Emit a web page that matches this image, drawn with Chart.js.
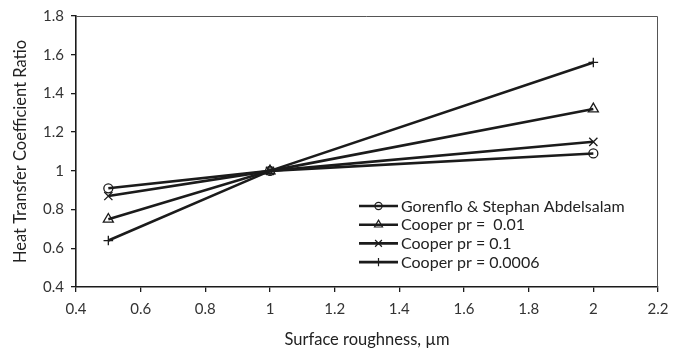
<!DOCTYPE html>
<html>
<head>
<meta charset="utf-8">
<script src="https://cdn.jsdelivr.net/npm/chart.js@4"></script>
<style>
  html, body { margin: 0; padding: 0; background: #fff; }
  #wrap { width: 679px; height: 352px; }
</style>
</head>
<body>
<div id="wrap"><canvas id="c" width="679" height="352"></canvas></div>
<script>
// Surface roughness (µm) and heat transfer coefficient ratios for each correlation
const roughness = [0.5, 1, 2];
const gorenflo = [0.91, 1.0, 1.09];
const cooper001 = [0.75, 1.0, 1.32];
const cooper01 = [0.87, 1.0, 1.15];
const cooper00006 = [0.64, 1.0, 1.56];

const seriesNames = [
  'Gorenflo & Stephan Abdelsalam',
  'Cooper pr =  0.01',
  'Cooper pr = 0.1',
  'Cooper pr = 0.0006'
];
const seriesValues = [gorenflo, cooper001, cooper01, cooper00006];
const seriesMarkers = ['circle', 'triangle', 'crossRot', 'cross'];
const markerRadius = [4.5, 5.8, 5.8, 4.8];
const legendMarkerRadius = [3.6, 4.6, 4.8, 4.2];

const xAxisTitle = 'Surface roughness, µm';
const yAxisTitle = 'Heat Transfer Coefficient Ratio';

const INK = '#1b1b1b';
const FONT = 'Lato, "Open Sans", sans-serif';

const datasets = seriesNames.map((name, i) => ({
  label: name,
  data: roughness.map((x, j) => ({ x: x, y: seriesValues[i][j] })),
  borderColor: INK,
  backgroundColor: 'rgba(0,0,0,0)',
  borderWidth: 2.6,
  pointStyle: seriesMarkers[i],
  pointRadius: markerRadius[i],
  pointBorderWidth: 1.3,
  pointBorderColor: INK,
  pointBackgroundColor: 'rgba(0,0,0,0)',
  tension: 0
}));

// Thin frame around the plot area
const framePlugin = {
  id: 'frame',
  beforeDatasetsDraw(chart) {
    const { ctx, chartArea: a } = chart;
    ctx.save();
    ctx.strokeStyle = '#555';
    ctx.lineWidth = 1;
    ctx.beginPath();
    ctx.moveTo(a.left, a.top + 0.5);
    ctx.lineTo(a.right - 0.5, a.top + 0.5);
    ctx.lineTo(a.right - 0.5, a.bottom);
    ctx.stroke();
    ctx.restore();
  }
};

// Legend drawn inside the plot area: line sample with marker, then label
const insideLegend = {
  id: 'insideLegend',
  afterDatasetsDraw(chart) {
    const { ctx } = chart;
    const x0 = 359, x1 = 398, tx = 401, y0 = 206, dy = 18.7;
    ctx.save();
    chart.data.datasets.forEach((ds, i) => {
      const y = y0 + i * dy;
      ctx.strokeStyle = INK;
      ctx.lineWidth = 2.6;
      ctx.beginPath();
      ctx.moveTo(x0, y);
      ctx.lineTo(x1, y);
      ctx.stroke();
      ctx.lineWidth = 1.2;
      ctx.strokeStyle = INK;
      ctx.fillStyle = 'rgba(0,0,0,0)';
      Chart.helpers.drawPoint(ctx, { pointStyle: ds.pointStyle, radius: legendMarkerRadius[i], borderWidth: 1.2 }, (x0 + x1) / 2, y);
      ctx.fillStyle = '#222';
      ctx.font = '16px ' + FONT;
      ctx.textBaseline = 'middle';
      ctx.textAlign = 'left';
      ctx.fillText(ds.label, tx, y + 0.5);
    });
    ctx.restore();
  }
};

const fmt = v => String(Math.round(v * 10) / 10);

new Chart(document.getElementById('c'), {
  type: 'line',
  data: { datasets: datasets },
  options: {
    responsive: false,
    devicePixelRatio: 1,
    animation: false,
    layout: { padding: { left: 0, top: 13, right: 21, bottom: 0 } },
    plugins: { legend: { display: false }, tooltip: { enabled: false } },
    scales: {
      x: {
        type: 'linear',
        min: 0.4,
        max: 2.2,
        afterFit(s) { s.height = 65; },
        ticks: { stepSize: 0.2, callback: fmt, color: '#333', font: { family: FONT, size: 15 }, padding: 8, maxRotation: 0 },
        grid: { drawOnChartArea: false, drawTicks: true, tickLength: 5, color: INK, lineWidth: 1.3 },
        border: { display: true, color: INK, width: 1.6 },
        title: { display: true, text: xAxisTitle, color: '#222', font: { family: FONT, size: 16.5 }, padding: { top: 0, bottom: 2 } }
      },
      y: {
        type: 'linear',
        min: 0.4,
        max: 1.8,
        afterFit(s) { s.width = 76; },
        ticks: { stepSize: 0.2, callback: fmt, color: '#333', font: { family: FONT, size: 15 }, padding: 7 },
        grid: { drawOnChartArea: false, drawTicks: true, tickLength: 5, color: INK, lineWidth: 1.3 },
        border: { display: true, color: INK, width: 1.6 },
        title: { display: true, text: yAxisTitle, color: '#222', font: { family: FONT, size: 16.5 }, padding: { top: 11, bottom: 0 } }
      }
    }
  },
  plugins: [framePlugin, insideLegend]
});
</script>
</body>
</html>
